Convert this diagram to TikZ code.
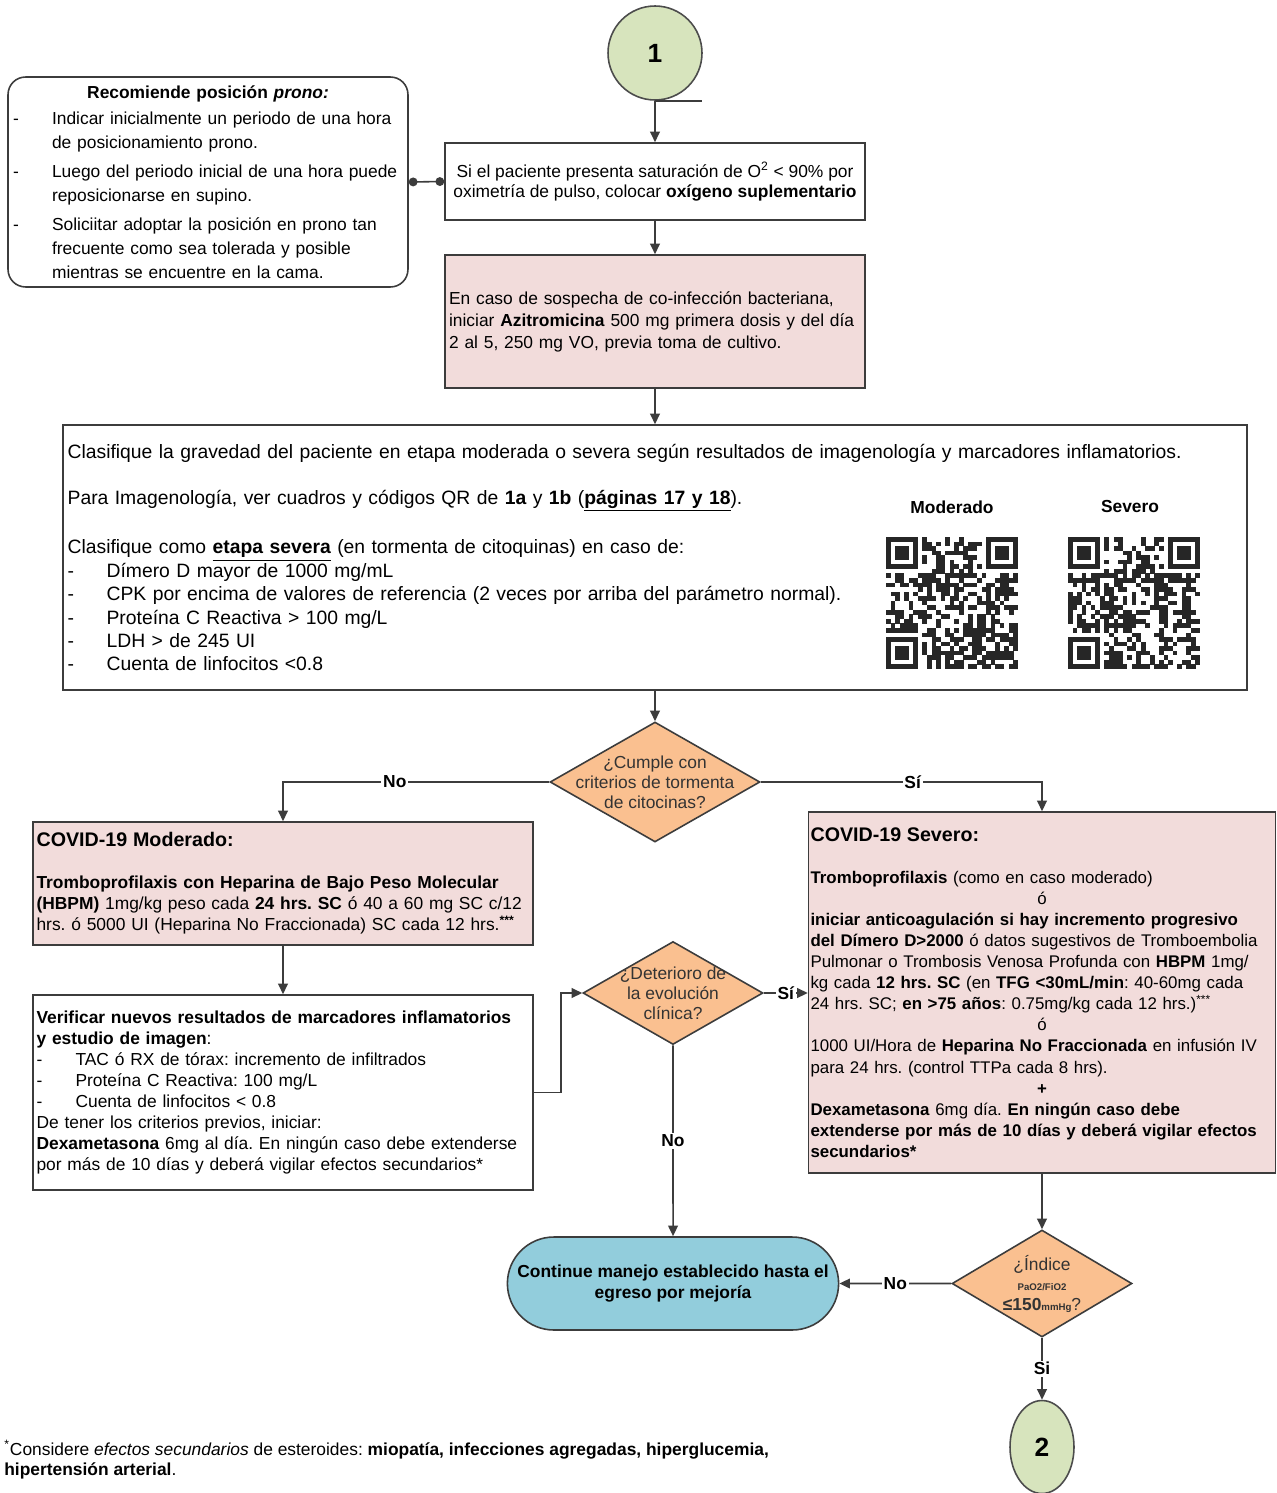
\documentclass[tikz,border=0pt]{standalone}
\usepackage{fontspec}
\setmainfont{Liberation Sans}
\usetikzlibrary{arrows.meta,shapes.geometric,shapes.misc}

\definecolor{rosa}{HTML}{F2DCDB}
\definecolor{naranja}{HTML}{FAC090}
\definecolor{celeste}{HTML}{92CDDC}
\definecolor{verde}{HTML}{D7E4BD}
\definecolor{trazo}{HTML}{3C3C3C}

\newcommand{\guion}{\makebox[0.78cm][l]{-}}
\newcommand{\sangria}{\hspace*{0.78cm}}

\begin{document}
\frenchspacing
\hyphenpenalty=10000
\begin{tikzpicture}[x=0.02cm, y=-0.02cm,
    caja/.style={rectangle, draw=trazo, line width=0.9pt, inner xsep=0.04cm, inner ysep=0.05cm,
        align=left, font=\fontsize{9.9}{11.9}\selectfont},
    rombo/.style={diamond, draw=trazo, line width=0.9pt, fill=naranja, inner sep=0pt},
    textorombo/.style={align=center, text=black!80, font=\fontsize{9.9}{11.4}\selectfont},
    flecha/.style={draw=trazo, line width=0.9pt, -{Triangle[length=6pt,width=5.5pt]}},
    etiqueta/.style={fill=white, inner sep=1pt, font=\fontsize{9.9}{11}\selectfont\bfseries},
    circulo/.style={circle, draw=black!70, line width=0.9pt, fill=verde,
        font=\fontsize{15}{16}\selectfont\bfseries}]

    \useasboundingbox (0,0) rectangle (1276,1493);
    \fill[white] (0,0) rectangle (1276,1493);

    \node[circulo, minimum size=1.88cm] (uno) at (655,53) {1};

    \node[caja, rounded corners=0.35cm, minimum width=8cm, minimum height=4.2cm, text width=7.8cm,
        font=\fontsize{9.9}{13.6}\selectfont] (prono) at (208,182) {%
        \makebox[7.8cm]{\bfseries Recomiende posición \textit{prono:}}\\[1pt]
        \guion Indicar inicialmente un periodo de una hora\\
        \sangria de posicionamiento prono.\\[3pt]
        \guion Luego del periodo inicial de una hora puede\\
        \sangria reposicionarse en supino.\\[3pt]
        \guion Soliciitar adoptar la posición en prono tan\\
        \sangria frecuente como sea tolerada y posible\\
        \sangria mientras se encuentre en la cama.};

    \node[caja, minimum width=8.4cm, minimum height=1.54cm, align=center,
        font=\fontsize{9.9}{11.4}\selectfont] (oxigeno) at (655,181.5)
        {Si el paciente presenta saturación de O\textsuperscript{2} < 90\% por\\
         oximetría de pulso, colocar \textbf{oxígeno suplementario}};

    \node[caja, fill=rosa, minimum width=8.4cm, minimum height=2.66cm, text width=8.24cm,
        font=\fontsize{9.9}{12.5}\selectfont] (azitro) at (655,321.5) {%
        En caso de sospecha de co-infección bacteriana,\\
        iniciar \textbf{Azitromicina} 500 mg primera dosis y del día\\
        2 al 5, 250 mg VO, previa toma de cultivo.};

    \node[caja, minimum width=23.68cm, minimum height=5.3cm, text width=23.5cm,
        font=\fontsize{11}{13.3}\selectfont] (clasifica) at (655,557.5) {%
        Clasifique la gravedad del paciente en etapa moderada o severa según resultados de imagenología y marcadores inflamatorios.\\[0.45cm]
        Para Imagenología, ver cuadros y códigos QR de \textbf{1a} y \textbf{1b} (\textbf{\underline{páginas 17 y 18}}).\\[0.53cm]
        Clasifique como \textbf{\underline{etapa severa}} (en tormenta de citoquinas) en caso de:\\
        \guion Dímero D mayor de 1000 mg/mL\\
        \guion CPK por encima de valores de referencia (2 veces por arriba del parámetro normal).\\
        \guion Proteína C Reactiva > 100 mg/L\\
        \guion LDH > de 245 UI\\
        \guion Cuenta de linfocitos <0.8};

    % codigos QR
    \node[font=\fontsize{9.9}{11}\selectfont\bfseries] (etqmod) at (952,507) {Moderado};
    \node[font=\fontsize{9.9}{11}\selectfont\bfseries] (etqsev) at (1130,507) {Severo};
    \foreach \qx/\qy/\semilla in {886/537/7, 1068/537/19}{
        \pgfmathsetseed{\semilla}
        \foreach \i in {0,...,28}{
            \foreach \j in {0,...,28}{
                \pgfmathtruncatemacro{\zona}{(\i<8)*(\j<8)+(\i>20)*(\j<8)+(\i<8)*(\j>20)}
                \pgfmathrandominteger{\bit}{0}{1}
                \ifnum\zona=0 \ifnum\bit=1
                    \fill[black!85] (\qx+\i*4.55,\qy+\j*4.55) rectangle ++(4.7,4.7);
                \fi\fi
            }
        }
        \foreach \fx/\fy in {0/0, 22/0, 0/22}{
            \fill[black!85] (\qx+\fx*4.55,\qy+\fy*4.55) rectangle ++(31.85,31.85);
            \fill[white] (\qx+\fx*4.55+4.55,\qy+\fy*4.55+4.55) rectangle ++(22.75,22.75);
            \fill[black!85] (\qx+\fx*4.55+9.1,\qy+\fy*4.55+9.1) rectangle ++(13.65,13.65);
        }
    }

    \node[rombo, minimum width=4.2cm, minimum height=2.4cm,
        label={[textorombo]center:{¿Cumple con\\criterios de tormenta\\de citocinas?}}] (cumple) at (655,782) {};

    \node[caja, fill=rosa, minimum width=10cm, minimum height=2.46cm, text width=9.86cm] (moderado) at (283,883.5) {%
        {\fontsize{11.2}{13}\selectfont\bfseries COVID-19 Moderado:}\\[0.42cm]
        \textbf{Tromboprofilaxis con Heparina de Bajo Peso Molecular}\\
        \textbf{(HBPM)} 1mg/kg peso cada \textbf{24 hrs. SC} ó 40 a 60 mg SC c/12\\
        hrs. ó 5000 UI (Heparina No Fraccionada) SC cada 12 hrs.\textsuperscript{\textbf{***}}};

    \node[caja, minimum width=10cm, minimum height=3.9cm, text width=9.86cm,
        font=\fontsize{9.9}{12}\selectfont] (verificar) at (283,1092.5) {%
        \textbf{Verificar nuevos resultados de marcadores inflamatorios}\\
        \textbf{y estudio de imagen}:\\
        \guion TAC ó RX de tórax: incremento de infiltrados\\
        \guion Proteína C Reactiva: 100 mg/L\\
        \guion Cuenta de linfocitos < 0.8\\
        De tener los criterios previos, iniciar:\\
        \textbf{Dexametasona} 6mg al día. En ningún caso debe extenderse\\
        por más de 10 días y deberá vigilar efectos secundarios*};

    \node[rombo, minimum width=3.6cm, minimum height=2.06cm,
        label={[textorombo]center:{¿Deterioro de\\la evolución\\clínica?}}] (deterioro) at (673,993) {};

    \node[caja, fill=rosa, minimum width=9.32cm, minimum height=7.22cm, text width=9.26cm,
        font=\fontsize{9.6}{12}\selectfont] (severo) at (1042,992.5) {%
        {\fontsize{11.2}{13}\selectfont\bfseries COVID-19 Severo:}\\[0.42cm]
        \textbf{Tromboprofilaxis} (como en caso moderado)\\
        \makebox[9.26cm]{ó}\\
        \textbf{iniciar anticoagulación si hay incremento progresivo}\\
        \textbf{del Dímero D>2000} ó datos sugestivos de Tromboembolia\\
        Pulmonar o Trombosis Venosa Profunda con \textbf{HBPM} 1mg/\\
        kg cada \textbf{12 hrs. SC} (en \textbf{TFG <30mL/min}: 40-60mg cada\\
        24 hrs. SC; \textbf{en >75 años}: 0.75mg/kg cada 12 hrs.)\textsuperscript{***}\\
        \makebox[9.26cm]{ó}\\
        1000 UI/Hora de \textbf{Heparina No Fraccionada} en infusión IV\\
        para 24 hrs. (control TTPa cada 8 hrs).\\
        \makebox[9.26cm]{\bfseries +}\\
        \textbf{Dexametasona} 6mg día. \textbf{En ningún caso debe}\\
        \textbf{extenderse por más de 10 días y deberá vigilar efectos}\\
        \textbf{secundarios*}};

    \node[rounded rectangle, draw=trazo, line width=0.9pt, fill=celeste, minimum width=6.86cm,
        minimum height=1.86cm, align=center, font=\fontsize{9.9}{12}\selectfont\bfseries] (continuar)
        at (673,1283.5) {Continue manejo establecido hasta el\\ egreso por mejoría};

    \node[rombo, minimum width=3.6cm, minimum height=2.14cm,
        label={[textorombo]center:{¿Índice\\{\fontsize{5.5}{6}\selectfont\bfseries PaO2/FiO2}\\%
            {\bfseries ≤150}{\fontsize{5.5}{6}\selectfont\bfseries mmHg}?}}] (indice) at (1042,1283.5) {};

    \node[circulo, ellipse, minimum width=1.28cm, minimum height=1.86cm] (dos) at (1042,1447) {2};

    \node[anchor=north west, align=left, inner sep=0pt, font=\fontsize{9.9}{11.6}\selectfont] (nota)
        at (4,1440) {\textsuperscript{*}Considere \textit{efectos secundarios} de esteroides: \textbf{miopatía, infecciones agregadas, hiperglucemia,}\\
        \textbf{hipertensión arterial}.};

    % conectores
    \draw[draw=trazo, line width=0.9pt] (uno.south) -- ++(47,0);
    \draw[flecha] (uno) -- (oxigeno);
    \draw[draw=trazo, line width=0.9pt, {Circle[length=5pt]}-{Circle[length=5pt]}] (prono.east) -- (oxigeno.west);
    \draw[flecha] (oxigeno) -- (azitro);
    \draw[flecha] (azitro) -- (clasifica);
    \draw[flecha] (clasifica) -- (cumple);
    \draw[flecha] (cumple.west) -| node[etiqueta, pos=0.29] {No} (moderado.north);
    \draw[flecha] (cumple.east) -| node[etiqueta, pos=0.27] {Sí} (severo.north);
    \draw[flecha] (moderado) -- (verificar);
    \draw[flecha] (verificar.east) -- ++(27,0) |- (deterioro.west);
    \draw[flecha] (deterioro.east) -- node[etiqueta] {Sí} (deterioro.east -| severo.west);
    \draw[flecha] (deterioro.south) -- node[etiqueta] {No} (continuar);
    \draw[flecha] (severo) -- (indice);
    \draw[flecha] (indice) -- node[etiqueta] {No} (continuar);
    \draw[flecha] (indice) -- node[etiqueta] {Si} (dos);

\end{tikzpicture}
\end{document}
